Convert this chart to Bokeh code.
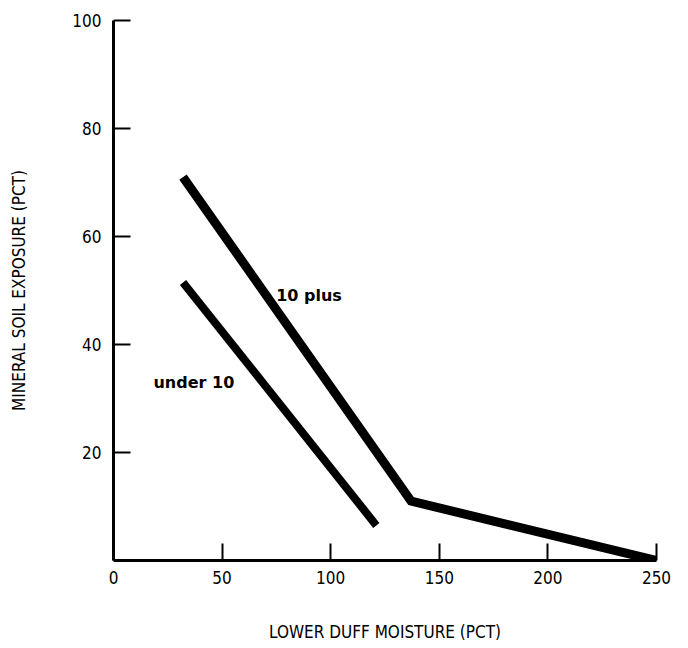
from bokeh.plotting import figure
from bokeh.models import Range1d, FixedTicker, ColumnDataSource
from bokeh.core.properties import value
from bokeh.embed import file_html
from bokeh.resources import INLINE

# data
plus_x = [32, 137, 250]
plus_y = [71, 11, 0]
under_x = [32, 121]
under_y = [51.5, 6.5]
label_text = ["10 plus", "under 10"]
label_x = [90, 37]
label_y = [49, 33]
x_ticks = [0, 50, 100, 150, 200, 250]
y_ticks = [20, 40, 60, 80, 100]

FONT = "DejaVu Sans Condensed"

p = figure(width=680, height=648, output_backend="svg", toolbar_location=None,
           x_range=Range1d(0, 250), y_range=Range1d(0, 100),
           min_border_left=113, min_border_right=24, min_border_top=20, min_border_bottom=88)
p.outline_line_color = None
p.grid.visible = False
p.background_fill_color = "white"
p.border_fill_color = "white"

p.line(plus_x, plus_y, line_width=9, line_color="black", line_join="miter", line_cap="butt")
p.line(under_x, under_y, line_width=8, line_color="black", line_cap="butt")

src = ColumnDataSource(dict(x=label_x, y=label_y, t=label_text))
p.text(x="x", y="y", text="t", source=src, text_font=value("DejaVu Sans"),
       text_font_style="bold", text_font_size="16px", text_align="center",
       text_baseline="middle", text_color="black")

for ax in (p.xaxis[0], p.yaxis[0]):
    ax.axis_line_width = 3
    ax.axis_line_color = "black"
    ax.major_tick_in = 17
    ax.major_tick_out = 0
    ax.major_tick_line_width = 2
    ax.minor_tick_line_color = None
    ax.major_label_text_font = FONT
    ax.major_label_text_font_size = "17px"
    ax.major_label_text_color = "black"
    ax.axis_label_text_font = FONT
    ax.axis_label_text_font_size = "17px"
    ax.axis_label_text_font_style = "normal"
    ax.axis_label_text_color = "black"

p.xaxis.ticker = FixedTicker(ticks=x_ticks)
p.yaxis.ticker = FixedTicker(ticks=y_ticks)
p.xaxis.axis_label = "LOWER DUFF MOISTURE (PCT)"
p.yaxis.axis_label = "MINERAL SOIL EXPOSURE (PCT)"
p.xaxis.major_label_standoff = 10
p.yaxis.major_label_standoff = 12
p.xaxis.axis_label_standoff = 35
p.yaxis.axis_label_standoff = 40

open("out.html", "w").write(file_html(p, INLINE))
